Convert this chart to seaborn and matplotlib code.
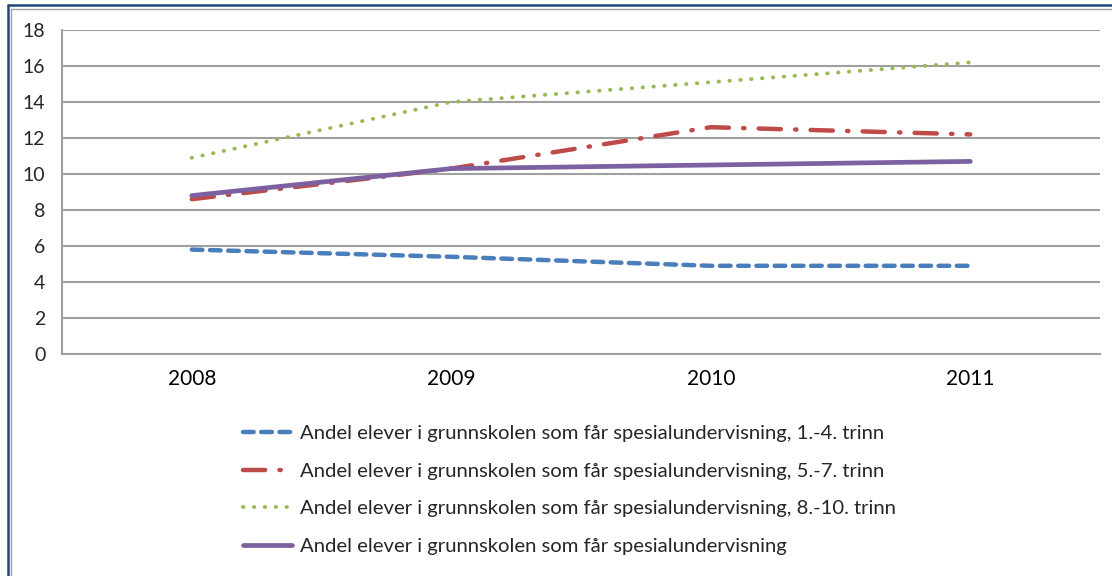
import pandas as pd
import seaborn as sns
import matplotlib.pyplot as plt
from matplotlib.lines import Line2D

years = ['2008', '2009', '2010', '2011']
trinn_1_4 = [5.8, 5.4, 4.9, 4.9]
trinn_5_7 = [8.6, 10.3, 12.6, 12.2]
trinn_8_10 = [10.9, 14.0, 15.1, 16.2]
totalt = [8.8, 10.3, 10.5, 10.7]

labels = ['Andel elever i grunnskolen som får spesialundervisning, 1.-4. trinn',
          'Andel elever i grunnskolen som får spesialundervisning, 5.-7. trinn',
          'Andel elever i grunnskolen som får spesialundervisning, 8.-10. trinn',
          'Andel elever i grunnskolen som får spesialundervisning']

df = pd.DataFrame({'year': years * 4,
                   'value': trinn_1_4 + trinn_5_7 + trinn_8_10 + totalt,
                   'serie': [l for l in labels for _ in years]})

sns.set_style('white')
plt.rcParams['font.family'] = ['Lato', 'DejaVu Sans']

colors = ['#4a7ebb', '#be4b48', '#98b954', '#7d60a0']
dashes = {labels[0]: (2.4, 1.7), labels[1]: (5, 3.2, 0.3, 3.2),
          labels[2]: (0.1, 2.7), labels[3]: ''}

fig = plt.figure(figsize=(11.12, 5.76), dpi=100)
ax = fig.add_axes([62 / 1112, 1 - 354 / 576, (1100 - 62) / 1112, 324 / 576])

sns.lineplot(data=df, x='year', y='value', hue='serie', style='serie',
             palette=colors, dashes=dashes, linewidth=3.2, legend=False,
             dash_capstyle='round', solid_capstyle='round', ax=ax)
ax.lines[2].set_linewidth(2.8)
ax.lines[3].set_linewidth(3.4)

ax.set_xlim(-0.5, 3.5)
ax.set_ylim(0, 18)
ax.set_yticks(range(0, 19, 2))
ax.set_xticks(range(4))
ax.set_xticklabels(years)
ax.set_xticks([-0.5, 0.5, 1.5, 2.5, 3.5], minor=True)
ax.set_xlabel('')
ax.set_ylabel('')
ax.grid(axis='y', color='#a0a0a0', linewidth=1.5)
ax.set_axisbelow(True)
for s in ['top', 'right']:
    ax.spines[s].set_visible(False)
for s in ['left', 'bottom']:
    ax.spines[s].set_color('#a0a0a0')
    ax.spines[s].set_linewidth(1.5)
ax.tick_params(axis='x', which='major', length=0, pad=11, labelsize=15, colors='black')
ax.tick_params(axis='x', which='minor', length=5, width=1.5, color='#a0a0a0', direction='out')
ax.tick_params(axis='y', length=5, width=1.5, color='#a0a0a0', direction='out', pad=7,
               labelsize=14)

fig.legend(handles=ax.lines[:4], labels=labels, loc='upper left',
           bbox_to_anchor=(243 / 1112, 1 - 425 / 576), frameon=False,
           fontsize=14.6, handlelength=2.4, handletextpad=0.42, labelspacing=1.0,
           borderpad=0, borderaxespad=0)

# ramme rundt figuren
fig.add_artist(Line2D([7.5 / 1112, 7.5 / 1112], [0, 1 - 5 / 576], color='#1f497d', linewidth=1.8))
fig.add_artist(Line2D([7.5 / 1112, 1], [1 - 5 / 576, 1 - 5 / 576], color='#1f497d', linewidth=1.8))
fig.add_artist(Line2D([10.5 / 1112, 10.5 / 1112], [0, 1 - 8.5 / 576], color='#a0a0a0', linewidth=1))
fig.add_artist(Line2D([10.5 / 1112, 1], [1 - 8.5 / 576, 1 - 8.5 / 576], color='#a0a0a0', linewidth=1))

fig.savefig('out.png', dpi=100)
